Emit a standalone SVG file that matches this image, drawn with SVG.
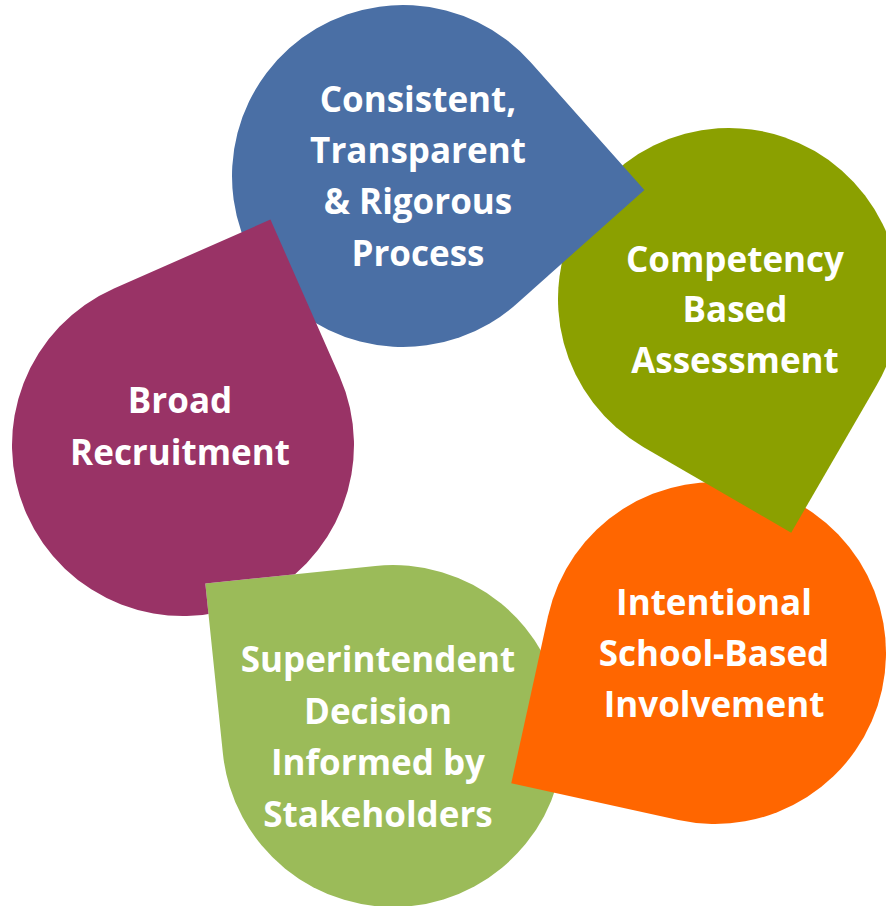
<svg xmlns="http://www.w3.org/2000/svg" xmlns:xlink="http://www.w3.org/1999/xlink" width="886" height="906" viewBox="0 0 886 906">
<style>
.lbl{font-family:"Open Sans","Noto Sans","Liberation Sans",sans-serif;font-weight:bold;font-size:35px;fill:#FFFFFF;text-anchor:middle}
</style>
<defs>
<path id="drop" d="M -171,0 A 171,171 0 0 1 0,-171 L 171,-171 L 171,0 A 171,171 0 0 1 0,171 A 171,171 0 0 1 -171,0 Z"/>
<mask id="cutLG" maskUnits="userSpaceOnUse" x="0" y="0" width="886" height="906">
<rect x="0" y="0" width="886" height="906" fill="#FFFFFF"/>
<use xlink:href="#drop" href="#drop" transform="translate(393,736) rotate(-95.9)" fill="#000000"/>
</mask>
</defs>
<rect width="886" height="906" fill="#FFFFFF"/>
<g id="superintendent">
<use xlink:href="#drop" href="#drop" transform="translate(393,736) rotate(-95.9)" fill="#9BBB59"/>
<text class="lbl"><tspan x="378" y="672">Superintendent</tspan><tspan x="378" y="724">Decision</tspan><tspan x="378" y="775">Informed by</tspan><tspan x="378" y="827">Stakeholders</tspan></text>
</g>
<g id="intentional">
<use xlink:href="#drop" href="#drop" transform="translate(715,653) rotate(192.4)" fill="#FF6600"/>
<text class="lbl"><tspan x="714" y="615">Intentional</tspan><tspan x="714" y="666">School-Based</tspan><tspan x="714" y="717">Involvement</tspan></text>
</g>
<g id="competency">
<use xlink:href="#drop" href="#drop" transform="translate(729,299) rotate(120.1)" fill="#8BA000"/>
<text class="lbl"><tspan x="735" y="272">Competency</tspan><tspan x="735" y="322">Based</tspan><tspan x="735" y="373">Assessment</tspan></text>
</g>
<g id="consistent">
<use xlink:href="#drop" href="#drop" transform="translate(403,176) rotate(48.3)" fill="#4A6FA5"/>
<text class="lbl"><tspan x="418" y="112">Consistent,</tspan><tspan x="418" y="163">Transparent</tspan><tspan x="418" y="214">&amp; Rigorous</tspan><tspan x="418" y="266">Process</tspan></text>
</g>
<g id="broad">
<g mask="url(#cutLG)">
<use xlink:href="#drop" href="#drop" transform="translate(183,445) rotate(-23.8)" fill="#993366"/>
</g>
<text class="lbl"><tspan x="180" y="413">Broad</tspan><tspan x="180" y="465">Recruitment</tspan></text>
</g>
<g id="connectors"/>
</svg>
